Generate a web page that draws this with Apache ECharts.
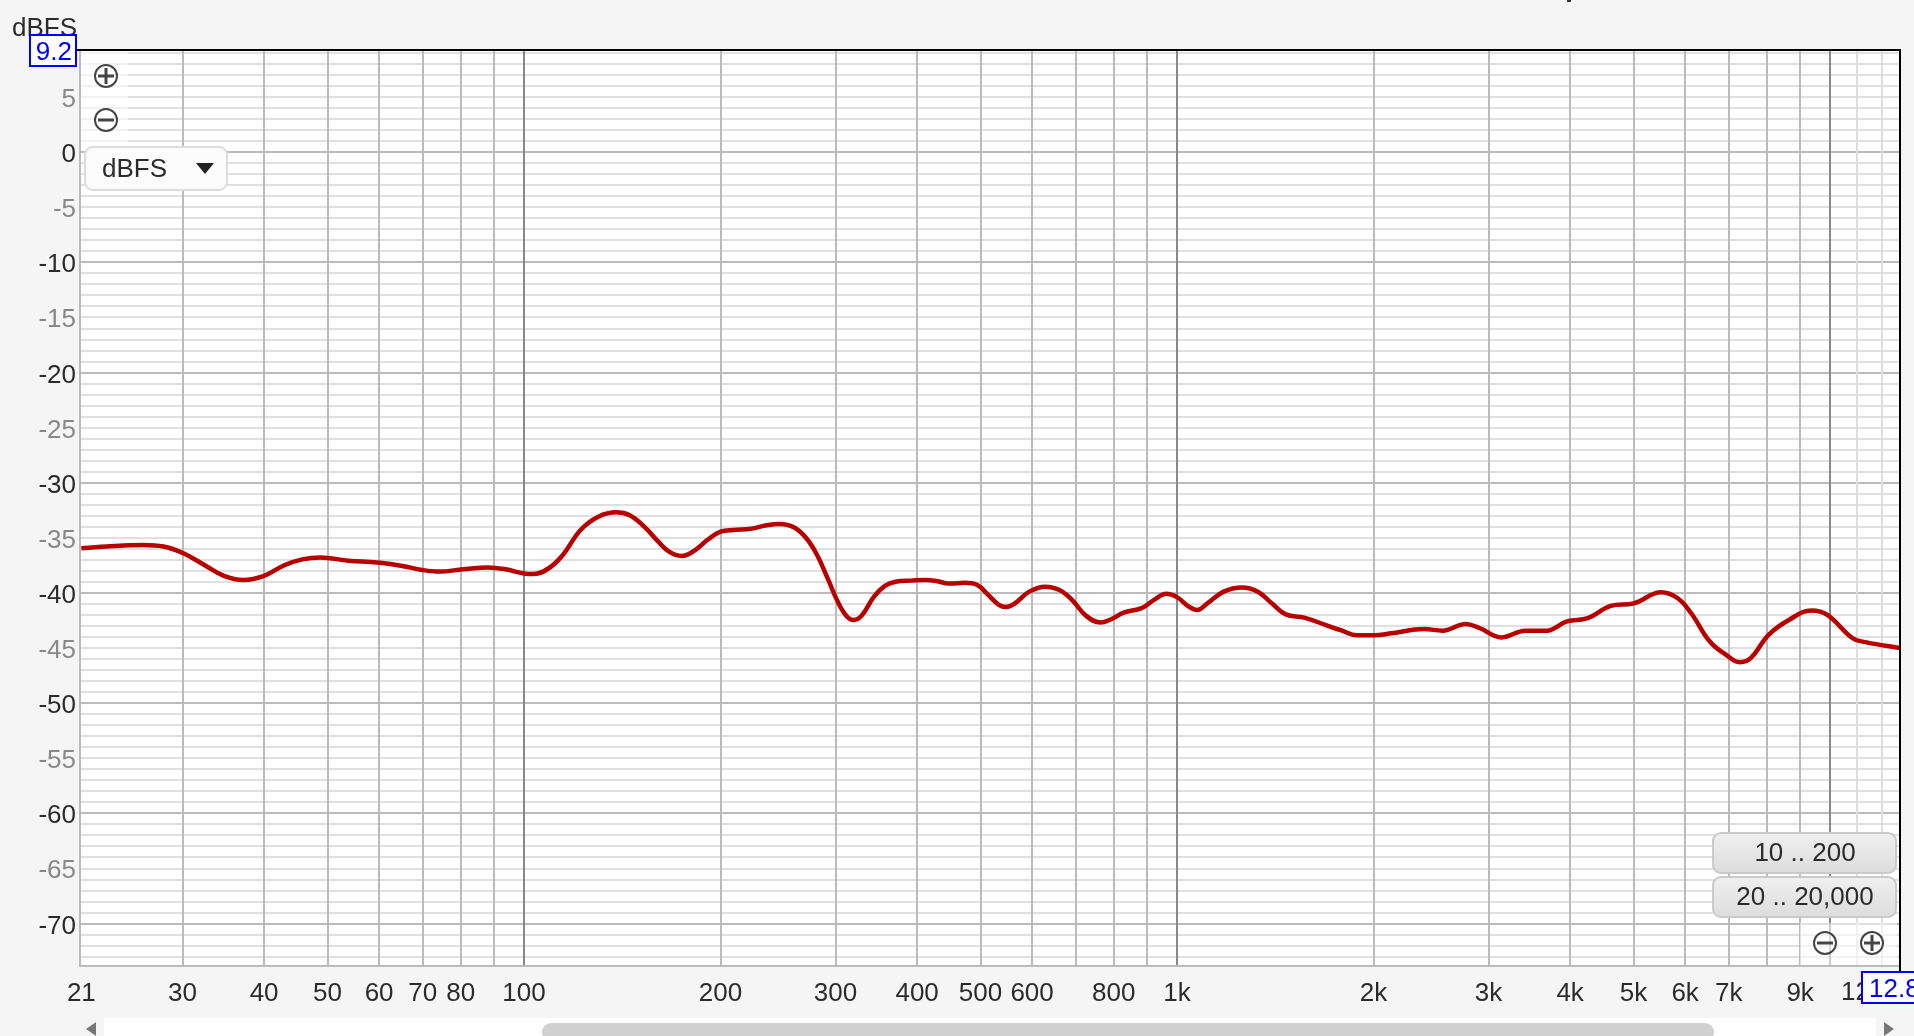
<!DOCTYPE html>
<html><head><meta charset="utf-8">
<style>html,body{margin:0;padding:0;background:#f5f5f5}#c{width:1914px;height:1036px}</style>
<script src="https://cdn.jsdelivr.net/npm/echarts@6/dist/echarts.min.js"></script>
</head><body><div id="c"></div>
<script>
const freqs=[21,22.93,26.15,28.05,30.04,32.6,34.72,37.19,39.89,42.96,45.77,48.76,53.92,59.58,65.08,69.82,74.27,80.67,88.1,93.76,100,103.6,109,114.7,122.1,130,138.4,145.2,152.8,160.6,166.8,174.3,182.2,191.5,200.1,209.2,222.7,234.2,246.3,259,270.7,281.1,291.8,303.2,312.8,319.9,328.7,343.6,357,370.6,392,412.4,428.1,447.5,473.6,494.6,514,533.6,547.3,564.7,593.9,628.5,660.9,690.6,726,763.7,792.8,828.7,882.5,922.2,963.6,1000,1043,1074,1113,1179,1257,1330,1397,1468,1566,1699,1782,1888,1999,2132,2390,2551,2767,2906,3140,3417,3678,3956,4257,4616,5006,5515,5844,6130,6546,6933,7280,7560,8060,8650,9370,9908,10835,11380,12650,12800];
const levels=[-35.97,-35.8,-35.66,-35.8,-36.4,-37.57,-38.47,-38.84,-38.5,-37.5,-36.97,-36.8,-37.1,-37.26,-37.57,-37.93,-38.08,-37.87,-37.7,-37.87,-38.25,-38.3,-37.8,-36.57,-34.3,-33.1,-32.7,-32.97,-34,-35.36,-36.27,-36.66,-36.2,-35.15,-34.45,-34.3,-34.2,-33.9,-33.76,-34.06,-35.06,-36.57,-38.7,-40.96,-42.2,-42.47,-42.1,-40.35,-39.38,-39,-38.9,-38.84,-38.93,-39.17,-39.1,-39.3,-40.2,-41.1,-41.3,-40.96,-39.9,-39.45,-39.75,-40.65,-42.1,-42.7,-42.4,-41.8,-41.4,-40.65,-40.1,-40.4,-41.26,-41.56,-40.96,-39.9,-39.53,-39.9,-40.96,-41.96,-42.26,-42.98,-43.4,-43.86,-43.86,-43.68,-43.3,-43.44,-42.83,-43.2,-44.05,-43.44,-43.44,-42.6,-42.3,-41.2,-40.96,-39.96,-40.5,-41.86,-44.43,-45.64,-46.3,-45.94,-43.8,-42.47,-41.6,-42,-44.13,-44.5,-44.97,-45];
const xGrid=[30,40,50,60,70,80,90,100,200,300,400,500,600,700,800,900,1000,2000,3000,4000,5000,6000,7000,8000,9000,10000,11000,12000];
const xLabels=[21,30,40,50,60,70,80,100,200,300,400,500,600,800,1000,2000,3000,4000,5000,6000,7000,9000];
const yGrid=[9,8,7,6,5,4,3,2,1,0,-1,-2,-3,-4,-5,-6,-7,-8,-9,-10,-11,-12,-13,-14,-15,-16,-17,-18,-19,-20,-21,-22,-23,-24,-25,-26,-27,-28,-29,-30,-31,-32,-33,-34,-35,-36,-37,-38,-39,-40,-41,-42,-43,-44,-45,-46,-47,-48,-49,-50,-51,-52,-53,-54,-55,-56,-57,-58,-59,-60,-61,-62,-63,-64,-65,-66,-67,-68,-69,-70,-71,-72,-73];
const yLabels=[5,0,-5,-10,-15,-20,-25,-30,-35,-40,-45,-50,-55,-60,-65,-70];
const xMin=20.9,xMax=12800,yMin=-73.87,yMax=9.25;
const font='"Liberation Sans",Arial,sans-serif';
const ink='#2b2b2b';
function fmtF(v){return v>=1000?(v/1000)+'k':String(v);}
function icon(cx,cy,plus){
  const ch=[
    {type:'circle',shape:{cx,cy,r:11},style:{fill:'rgba(255,255,255,0.3)',stroke:'#444',lineWidth:2}},
    {type:'line',shape:{x1:cx-8,y1:cy,x2:cx+8,y2:cy},style:{stroke:'#444',lineWidth:3}}];
  if(plus)ch.push({type:'line',shape:{x1:cx,y1:cy-8,x2:cx,y2:cy+8},style:{stroke:'#444',lineWidth:3}});
  return ch;
}
function button(y,txt){
  return [
    {type:'rect',shape:{x:1713,y:y,width:183,height:40,r:8},style:{fill:{type:'linear',x:0,y:0,x2:0,y2:1,colorStops:[{offset:0,color:'#f0f0f0'},{offset:1,color:'#dcdcdc'}]},stroke:'#cacaca',lineWidth:2}},
    {type:'text',style:{x:1805,y:y+21,text:txt,align:'center',verticalAlign:'middle',font:'26px '+font,fill:ink}}];
}
const gfx=[
  {type:'rect',shape:{x:81,y:51,width:47,height:91},style:{fill:'rgba(255,255,255,0.55)'}},
  {type:'rect',shape:{x:1800,y:923,width:97,height:42},style:{fill:'rgba(255,255,255,0.55)'}},
  {type:'rect',shape:{x:1567,y:0,width:4,height:2},style:{fill:'#333'}},
  {type:'line',shape:{x1:77,y1:50,x2:1901,y2:50},style:{stroke:'#000',lineWidth:2}},
  {type:'line',shape:{x1:1900,y1:50,x2:1900,y2:972},style:{stroke:'#000',lineWidth:2}},
  {type:'text',style:{x:12,y:29,text:'dBFS',align:'left',verticalAlign:'middle',font:'26px '+font,fill:ink}},
  {type:'rect',shape:{x:30,y:35,width:46,height:31},style:{fill:'#fff',stroke:'#0000ff',lineWidth:2}},
  {type:'text',style:{x:72,y:53,text:'9.2',align:'right',verticalAlign:'middle',font:'26px '+font,fill:'#0000ff'}},
  ...icon(106,76,true),...icon(106,120,false),
  {type:'rect',shape:{x:85,y:147,width:142,height:43,r:8},style:{fill:'#fbfbfb',stroke:'#dcdcdc',lineWidth:2}},
  {type:'text',style:{x:102,y:170,text:'dBFS',align:'left',verticalAlign:'middle',font:'26px '+font,fill:ink}},
  {type:'polygon',shape:{points:[[196,163],[214,163],[205,174]]},style:{fill:'#222'}},
  ...button(833,'10 .. 200'),...button(877,'20 .. 20,000'),
  ...icon(1825,943,false),...icon(1872,943,true),
  {type:'text',style:{x:1841,y:993,text:'12k',align:'left',verticalAlign:'middle',font:'26px '+font,fill:ink}},
  {type:'rect',shape:{x:1862,y:972,width:60,height:31},style:{fill:'#fff',stroke:'#0000ff',lineWidth:2}},
  {type:'text',style:{x:1869,y:990,text:'12.8k',align:'left',verticalAlign:'middle',font:'26px '+font,fill:'#0000ff'}},
  {type:'rect',shape:{x:104,y:1018,width:1772,height:18},style:{fill:'#fff'}},
  {type:'rect',shape:{x:542,y:1023,width:1172,height:18,r:9},style:{fill:'#d0d0d0'}},
  {type:'polygon',shape:{points:[[96,1022],[96,1036],[86,1029]]},style:{fill:'#777'}},
  {type:'polygon',shape:{points:[[1884,1022],[1884,1036],[1894,1029]]},style:{fill:'#777'}}
].map(g=>Object.assign({silent:true,z:100},g));
const chart=echarts.init(document.getElementById('c'),null,{renderer:'canvas'});
chart.setOption({
  backgroundColor:'#f5f5f5',animation:false,
  grid:{left:80,right:14,top:50,bottom:70,show:true,backgroundColor:'#fff',borderWidth:0},
  xAxis:{type:'log',logBase:10,min:xMin,max:xMax,
    axisLine:{show:true,onZero:false,lineStyle:{color:'#bbb',width:2}},
    axisTick:{show:false,customValues:xGrid},
    axisLabel:{customValues:xLabels,formatter:v=>fmtF(Math.round(v)),color:ink,fontFamily:font,fontSize:26,margin:15,hideOverlap:false,showMinLabel:true,showMaxLabel:true},
    splitLine:{show:true,lineStyle:{width:2,color:xGrid.map(v=>(v===100||v===1000||v===10000)?'#888':(v>10000?'#ddd':'#bbb'))}},
    minorTick:{show:false},minorSplitLine:{show:false}},
  yAxis:{type:'value',min:yMin,max:yMax,
    axisLine:{show:true,onZero:false,lineStyle:{color:'#bbb',width:2}},
    axisTick:{show:false,customValues:yGrid},
    axisLabel:{customValues:yLabels,color:v=>(v%10===0?ink:'#888'),fontFamily:font,fontSize:26,margin:4,verticalAlign:'top',lineHeight:6,showMinLabel:true,showMaxLabel:true},
    splitLine:{show:true,lineStyle:{width:2,color:yGrid.map(v=>v%10===0?'#bbb':'#e0e0e0')}}},
  series:[{type:'line',data:freqs.map((f,i)=>[f,levels[i]]),showSymbol:false,smooth:0.4,lineStyle:{color:'#b80000',width:4.5},z:5,clip:true}],
  graphic:gfx
});
</script></body></html>
